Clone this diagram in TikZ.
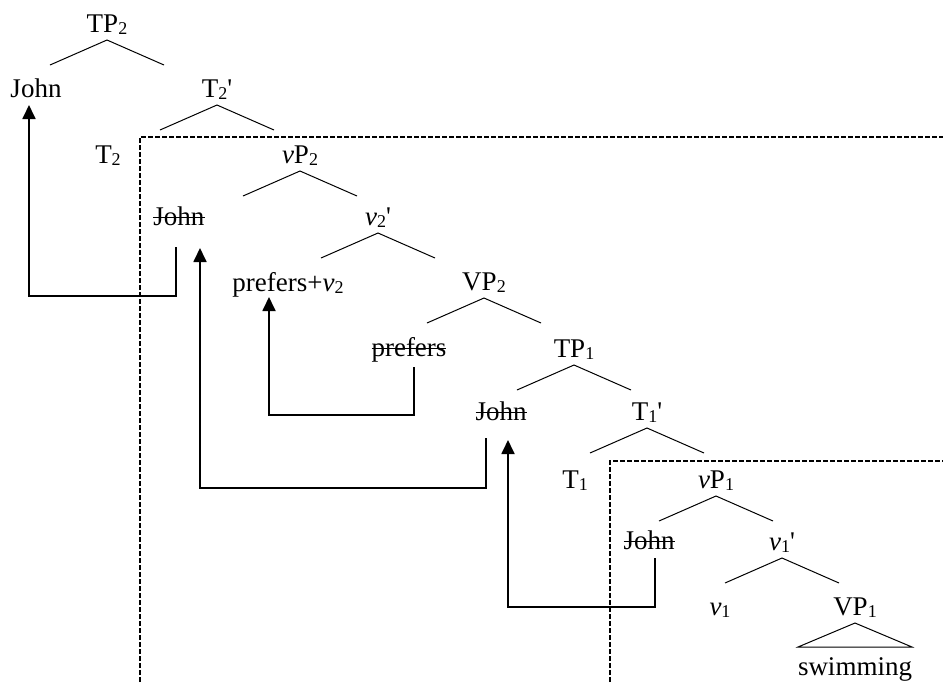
\documentclass[tikz,border=0pt]{standalone}
\usepackage{fontspec}
\setmainfont{Liberation Serif}
\usetikzlibrary{arrows.meta,calc}
\newsavebox{\strbox}
\newcommand{\struck}[1]{\sbox{\strbox}{#1}\rlap{\rule[0.55ex]{\wd\strbox}{0.7pt}}\usebox{\strbox}}
\newcommand{\idx}[1]{\raisebox{-1.2pt}{\fontsize{9}{9}\selectfont #1}}
\newcommand{\prm}{\textquotesingle}

\begin{document}
\begin{tikzpicture}[
    x=0.5pt, y=-0.5pt,
    >={Triangle[length=7pt,width=6.5pt]},
    font=\fontsize{13.5}{16}\selectfont,
    lbl/.style={anchor=base, inner sep=1pt},
    branch/.style={line width=0.5pt},
    move/.style={->, line width=0.9pt},
    phase/.style={dash pattern=on 2.5pt off 1pt, line width=0.8pt},
  ]
\useasboundingbox (0,0) rectangle (943,682);

% ===== higher clause =====
\node[lbl] (TP2) at (107,32) {TP\idx{2}};
\node[lbl] (john0) at (36,97) {John};
\node[lbl] (T2bar) at (217,97) {T\idx{2}\prm};
\node[lbl] (T2) at (108,163) {T\idx{2}};
\node[lbl] (vP2) at (300,163) {\textit{v}P\idx{2}};
\node[lbl] (john1) at (179,225) {\struck{John}};
\node[lbl] (v2bar) at (378,225) {\textit{v}\idx{2}\prm};
\node[lbl] (prefv) at (288,291) {prefers+\textit{v}\idx{2}};
\node[lbl] (VP2) at (484,290) {VP\idx{2}};
\node[lbl] (pref) at (409,356) {\struck{prefers}};

% ===== embedded clause =====
\node[lbl] (TP1) at (574,357) {TP\idx{1}};
\node[lbl] (john2) at (501,420) {\struck{John}};
\node[lbl] (T1bar) at (647,420) {T\idx{1}\prm};
\node[lbl] (T1) at (575,488) {T\idx{1}};
\node[lbl] (vP1) at (716,488) {\textit{v}P\idx{1}};
\node[lbl] (john3) at (649,549) {\struck{John}};
\node[lbl] (v1bar) at (782,550) {\textit{v}\idx{1}\prm};
\node[lbl] (v1) at (720,615) {\textit{v}\idx{1}};
\node[lbl] (VP1) at (855,615) {VP\idx{1}};
\node[lbl] (swim) at (855,675) {swimming};

% Branches
\foreach \p in {TP2,T2bar,vP2,v2bar,VP2,TP1,T1bar,vP1,v1bar}
  \draw[branch] ($(\p.base)+(-57,33)$) -- ($(\p.base)+(0,8)$) -- ($(\p.base)+(57,33)$);
\draw[branch] ($(VP1.base)+(0,8)$) -- ($(VP1.base)+(-57,32)$) -- ($(VP1.base)+(57,32)$) -- cycle;

% Phases
\draw[phase] (140,682) -- (140,137) -- (943,137);
\draw[phase] (610,682) -- (610,461) -- (943,461);

% Movement
\draw[move] ($(john1.base)+(-3,22)$) -- ++(0,49) -| ($(john0.base)+(-7,8)$);
\draw[move] ($(pref.base)+(5,11)$) -- ++(0,48) -| ($(prefv.base)+(-19,6)$);
\draw[move] ($(john2.base)+(-15,18)$) -- ++(0,50) -| ($(john1.base)+(21,23)$);
\draw[move] ($(john3.base)+(6,9)$) -- ++(0,49) -| ($(john2.base)+(7,20)$);

\end{tikzpicture}
\end{document}
